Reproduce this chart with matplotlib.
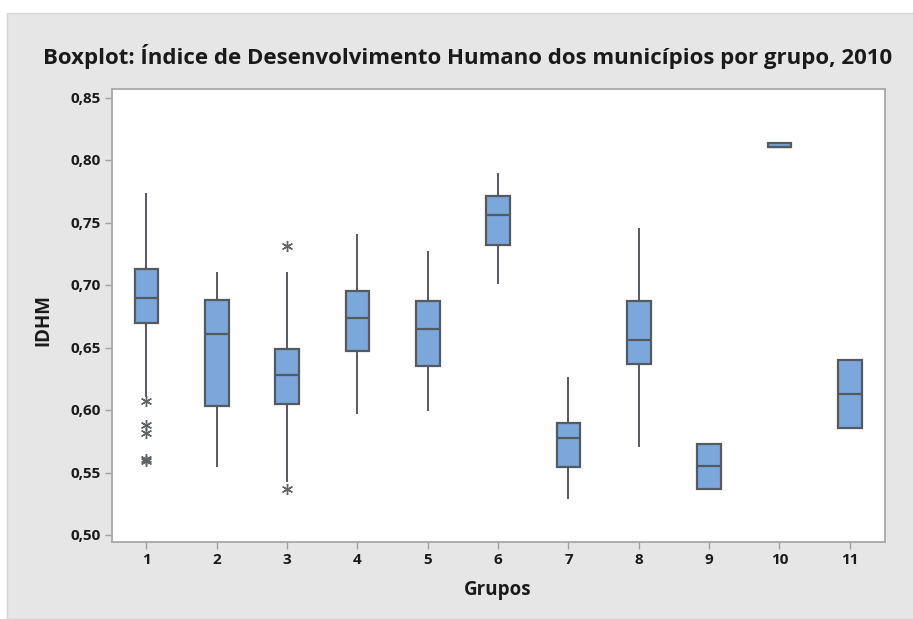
import matplotlib
matplotlib.use("Agg")
import matplotlib.pyplot as plt
from matplotlib.patches import Rectangle

# box statistics (IDHM 2010)
grupos = ["1", "2", "3", "4", "5", "6", "7", "8", "9", "10", "11"]
whislo = [0.611, 0.5555, 0.543, 0.598, 0.600, 0.7015, 0.530, 0.571, 0.537, 0.8105, 0.586]
q1 = [0.670, 0.603, 0.605, 0.647, 0.635, 0.732, 0.554, 0.637, 0.537, 0.8105, 0.586]
med = [0.690, 0.661, 0.628, 0.674, 0.6645, 0.756, 0.578, 0.656, 0.555, 0.8105, 0.613]
q3 = [0.713, 0.688, 0.649, 0.695, 0.687, 0.771, 0.590, 0.687, 0.573, 0.8135, 0.640]
whishi = [0.773, 0.710, 0.710, 0.740, 0.7268, 0.789, 0.6256, 0.745, 0.573, 0.8135, 0.640]
outliers = [
    [0.607, 0.588, 0.582, 0.5605, 0.5595],
    [],
    [0.731, 0.537],
    [], [], [], [], [], [], [], [],
]

yticks = [0.50, 0.55, 0.60, 0.65, 0.70, 0.75, 0.80, 0.85]

plt.rcParams['font.family'] = ['Open Sans', 'DejaVu Sans']

fig = plt.figure(figsize=(9.13, 6.19), dpi=100)
fig.patch.set_facecolor("white")
fig.patches.append(Rectangle((7 / 913, 0), 1, (619 - 13) / 619, transform=fig.transFigure,
                             facecolor="#e6e6e6", edgecolor="#d4d4d4", lw=1, zorder=-10))

ax = fig.add_axes([112 / 913, 1 - 542 / 619, (885 - 112) / 913, (542 - 89) / 619])

stats = []
for i in range(len(grupos)):
    stats.append(dict(label=grupos[i], whislo=whislo[i], q1=q1[i], med=med[i],
                      q3=q3[i], whishi=whishi[i], fliers=outliers[i]))

edge = "#555a60"
ax.bxp(stats, positions=range(1, len(grupos) + 1), widths=0.34, patch_artist=True,
       showcaps=False,
       boxprops=dict(facecolor="#7ba7da", edgecolor=edge, linewidth=1.6),
       medianprops=dict(color=edge, linewidth=1.6),
       whiskerprops=dict(color=edge, linewidth=1.4),
       flierprops=dict(marker=(6, 2, 0), markersize=8, markeredgecolor="#606468",
                       markeredgewidth=1.0, markerfacecolor="#606468"))

ax.set_xlim(0.51, 11.5)
ax.set_ylim(0.4944, 0.8568)
ax.set_yticks(yticks)
ax.set_yticklabels([f"{v:.2f}".replace(".", ",") for v in yticks])
ax.set_xticks(range(1, len(grupos) + 1))
ax.set_xticklabels(grupos)

for s in ax.spines.values():
    s.set_color("#a8a8a8")
    s.set_linewidth(1.3)
ax.tick_params(axis="both", colors="#a0a0a0", length=5, width=1, labelsize=11,
               labelcolor="#1a1a1a", pad=3)
for lab in ax.get_xticklabels() + ax.get_yticklabels():
    lab.set_fontweight("bold")

fig.text(0.512, 0.908, "Boxplot: Índice de Desenvolvimento Humano dos municípios por grupo, 2010",
         ha="center", va="center", fontsize=16, fontweight="bold", color="#1a1a1a")
fig.text(0.047, 0.483, "IDHM", rotation=90, ha="center", va="center",
         fontsize=13.5, fontweight="bold", color="#1a1a1a")
fig.text(0.545, 0.047, "Grupos", ha="center", va="center",
         fontsize=13.5, fontweight="bold", color="#1a1a1a")

fig.savefig("out.png", dpi=100)
